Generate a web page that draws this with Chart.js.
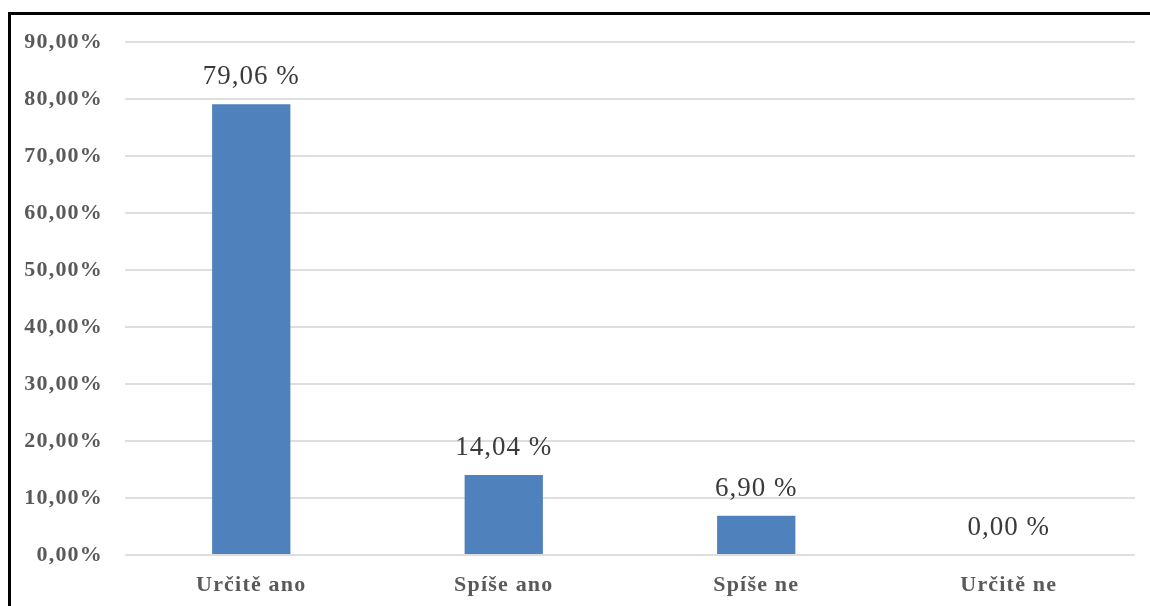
<!DOCTYPE html>
<html lang="cs">
<head>
<meta charset="utf-8">
<title>Odpovědi</title>
<script src="https://cdn.jsdelivr.net/npm/chart.js@4"></script>
<style>
  html, body { margin: 0; padding: 0; background: #ffffff; }
  #wrap { position: relative; width: 1150px; height: 606px; overflow: hidden; }
  #frame {
    position: absolute; left: 8px; top: 12px; width: 1200px; height: 700px;
    border-left: 3px solid #000; border-top: 3px solid #000; box-sizing: border-box;
  }
  #chart { position: absolute; left: 0; top: 0; }
</style>
</head>
<body>
<div id="wrap">
  <div id="frame"></div>
  <canvas id="chart" width="1150" height="606"></canvas>
</div>
<script>
// Answer categories and their shares (in percent)
const categories = ['Určitě ano', 'Spíše ano', 'Spíše ne', 'Určitě ne'];
const shares = [79.06, 14.04, 6.90, 0.00];

// Value axis
const yMin = 0;
const yMax = 90;
const yStep = 10;
const yTickLabels = ['0,00%', '10,00%', '20,00%', '30,00%', '40,00%', '50,00%', '60,00%', '70,00%', '80,00%', '90,00%'];

const serif = '"Liberation Serif", "Times New Roman", serif';

function formatShare(v) {
  return v.toFixed(2).replace('.', ',') + ' %';
}

// Slightly wider letter spacing for all canvas text
const spacing = {
  id: 'spacing',
  beforeLayout(chart) { chart.ctx.letterSpacing = '1.2px'; },
  beforeDraw(chart) { chart.ctx.letterSpacing = '1.2px'; }
};

// Writes the value above each bar
const valueLabels = {
  id: 'valueLabels',
  afterDatasetsDraw(chart) {
    const ctx = chart.ctx;
    const meta = chart.getDatasetMeta(0);
    const data = chart.data.datasets[0].data;
    ctx.save();
    ctx.font = '27px ' + serif;
    ctx.letterSpacing = '1px';
    ctx.fillStyle = '#3a3a3a';
    ctx.textAlign = 'center';
    ctx.textBaseline = 'alphabetic';
    meta.data.forEach((bar, i) => {
      ctx.fillText(formatShare(data[i]), bar.x, bar.y - 20);
    });
    ctx.restore();
  }
};

new Chart(document.getElementById('chart'), {
  type: 'bar',
  data: {
    labels: categories,
    datasets: [{
      data: shares,
      backgroundColor: '#4F81BD',
      borderWidth: 0,
      barPercentage: 0.31,
      categoryPercentage: 1.0
    }]
  },
  options: {
    responsive: false,
    animation: false,
    events: [],
    layout: { padding: { left: 0, right: 15, top: 42, bottom: 0 } },
    plugins: {
      legend: { display: false },
      tooltip: { enabled: false }
    },
    scales: {
      x: {
        grid: { display: false, drawTicks: false },
        border: { display: false },
        ticks: {
          color: '#595959',
          font: { family: serif, size: 22, weight: 'bold' },
          padding: 17,
          maxRotation: 0
        },
        afterFit(scale) { scale.height = 51; }
      },
      y: {
        min: yMin,
        max: yMax,
        grid: { color: '#dedede', lineWidth: 2, drawTicks: false },
        border: { display: false },
        ticks: {
          stepSize: yStep,
          color: '#595959',
          font: { family: serif, size: 22, weight: 'bold' },
          padding: 22,
          callback(value) {
            return yTickLabels[Math.round((value - yMin) / yStep)];
          }
        },
        afterFit(scale) { scale.width = 125; }
      }
    }
  },
  plugins: [spacing, valueLabels]
});
</script>
</body>
</html>
